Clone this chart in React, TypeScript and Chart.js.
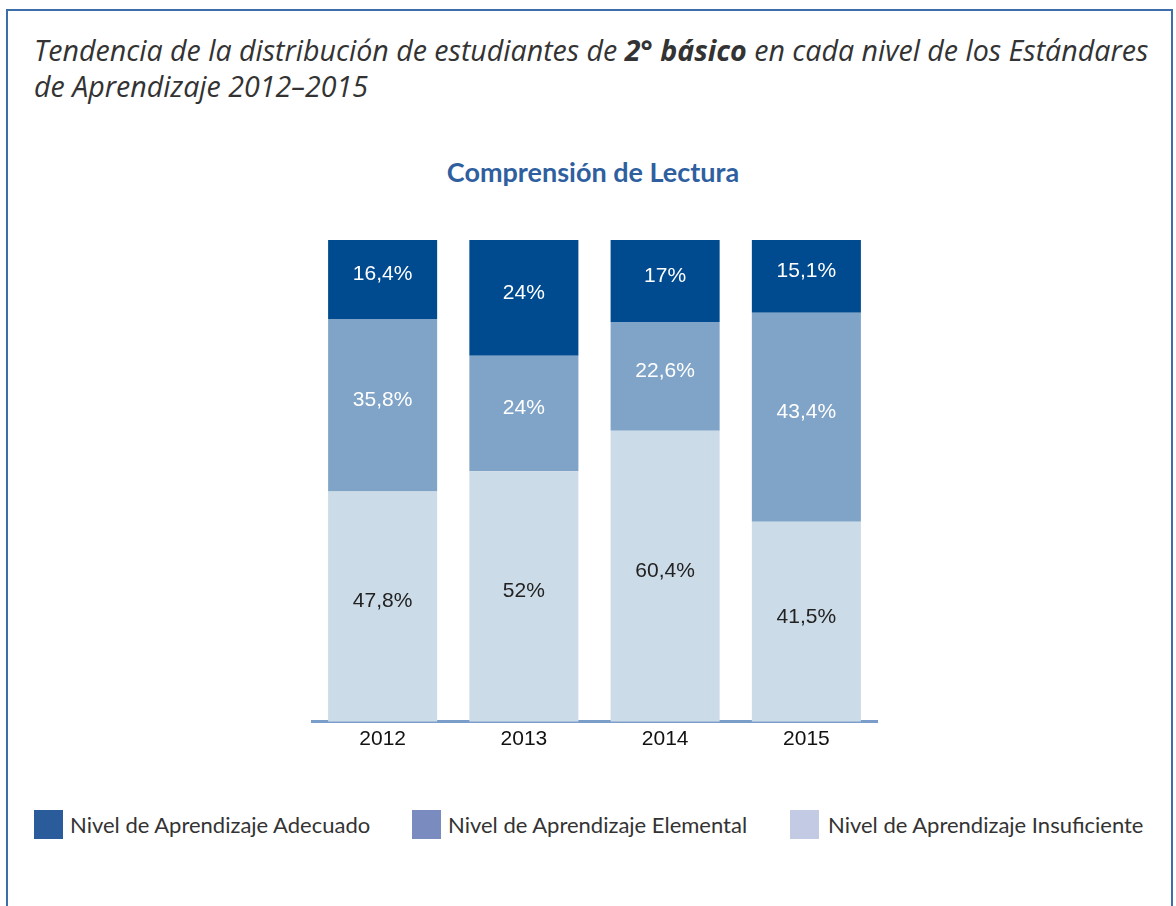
import React, { useEffect, useRef } from "react";
import { Chart, registerables } from "chart.js";

Chart.register(...registerables);

const years = ["2012", "2013", "2014", "2015"];
const adecuado = [16.4, 24, 17, 15.1];
const elemental = [35.8, 24, 22.6, 43.4];
const insuficiente = [47.8, 52, 60.4, 41.5];

const seriesNames = [
  "Nivel de Aprendizaje Adecuado",
  "Nivel de Aprendizaje Elemental",
  "Nivel de Aprendizaje Insuficiente",
];
const barColors = ["#004a8f", "#80a4c8", "#ccdbe8"];
const legendColors = ["#2a5b9b", "#7a8cbf", "#c3cae4"];
const labelColors = ["#ffffff", "#ffffff", "#222222"];

const fmt = (v: number) => String(v).replace(".", ",") + "%";

const segLabels = {
  id: "segLabels",
  afterDatasetsDraw(chart: any) {
    const ctx = chart.ctx;
    chart.data.datasets.forEach((ds: any, i: number) => {
      const meta = chart.getDatasetMeta(i);
      meta.data.forEach((el: any, j: number) => {
        const { x, y, base } = el.getProps(["x", "y", "base"], true);
        ctx.save();
        ctx.fillStyle = ds.labelColor;
        ctx.font = '21px "Liberation Sans", Arial, sans-serif';
        ctx.textAlign = "center";
        ctx.textBaseline = "middle";
        ctx.fillText(fmt(ds.data[j]), x, (y + base) / 2 - 5);
        ctx.restore();
      });
    });
  },
};

export default function App() {
  const ref = useRef<HTMLCanvasElement | null>(null);

  useEffect(() => {
    if (!ref.current) return;
    const chart = new Chart(ref.current, {
      type: "bar",
      data: {
        labels: years,
        datasets: [
          { label: seriesNames[2], data: insuficiente, backgroundColor: barColors[2], labelColor: labelColors[2] } as any,
          { label: seriesNames[1], data: elemental, backgroundColor: barColors[1], labelColor: labelColors[1] } as any,
          { label: seriesNames[0], data: adecuado, backgroundColor: barColors[0], labelColor: labelColors[0] } as any,
        ],
      },
      options: {
        animation: false,
        responsive: false,
        maintainAspectRatio: false,
        layout: { padding: { left: 32, right: 23, top: 40, bottom: 0 } },
        plugins: { legend: { display: false }, tooltip: { enabled: false } },
        datasets: { bar: { categoryPercentage: 1, barPercentage: 0.772, borderWidth: 0 } },
        scales: {
          x: {
            stacked: true,
            grid: { display: true, color: "transparent", drawTicks: false },
            border: { display: true, color: "#7b9dca", width: 3 },
            ticks: {
              color: "#111111",
              padding: 5,
              font: { family: '"Liberation Sans", Arial, sans-serif', size: 21 },
            },
          },
          y: { stacked: true, display: false, min: 0, max: 100 },
        },
      },
      plugins: [segLabels],
    });
    return () => chart.destroy();
  }, []);

  const titleFont = '"Open Sans", Lato, sans-serif';
  const bodyFont = 'Lato, "Open Sans", sans-serif';

  return (
    <div style={{ position: "absolute", left: 0, top: 0, width: 1176, height: 906, background: "#fff", overflow: "hidden" }}>
      <div
        style={{
          position: "absolute",
          left: 6,
          top: 9,
          width: 1167,
          height: 920,
          border: "2px solid #3d6eaa",
          boxSizing: "border-box",
        }}
      />
      <div
        style={{
          position: "absolute",
          left: 34,
          top: 32,
          fontFamily: titleFont,
          fontStyle: "italic",
          fontSize: 28.6,
          lineHeight: "36px",
          color: "#333333",
          whiteSpace: "nowrap",
        }}
      >
        <div>
          Tendencia de la distribución de estudiantes de <b>2° básico</b> en cada nivel de los Estándares
        </div>
        <div>de Aprendizaje 2012–2015</div>
      </div>
      <div
        style={{
          position: "absolute",
          left: 0,
          width: 1186,
          top: 154,
          textAlign: "center",
          fontFamily: bodyFont,
          fontWeight: 700,
          fontSize: 27,
          lineHeight: "36px",
          color: "#2f5f9f",
        }}
      >
        Comprensión de Lectura
      </div>
      <canvas ref={ref} width={620} height={557} style={{ position: "absolute", left: 280, top: 200, width: 620, height: 557 }} />
      {[0, 1, 2].map((i) => (
        <React.Fragment key={i}>
          <div
            style={{
              position: "absolute",
              left: [34, 412, 790][i],
              top: 810,
              width: 29,
              height: 29,
              background: legendColors[i],
            }}
          />
          <div
            style={{
              position: "absolute",
              left: [70, 448, 828][i],
              top: 809,
              fontFamily: bodyFont,
              fontSize: 22,
              lineHeight: "32px",
              color: "#333333",
              whiteSpace: "nowrap",
            }}
          >
            {seriesNames[i]}
          </div>
        </React.Fragment>
      ))}
    </div>
  );
}
